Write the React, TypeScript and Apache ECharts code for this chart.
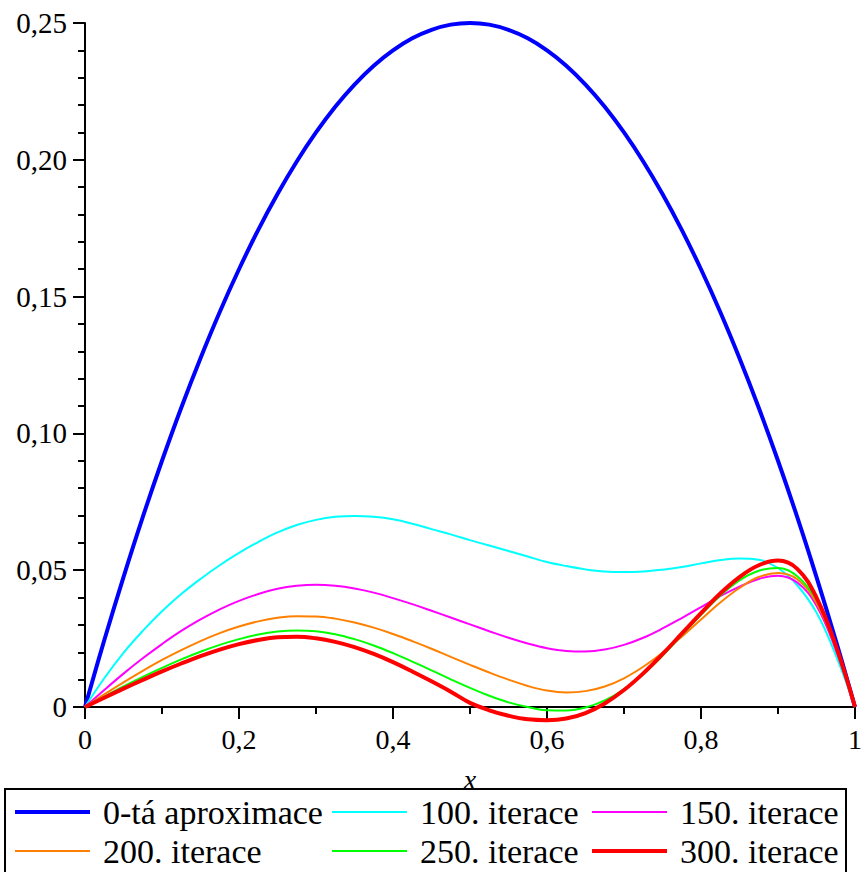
import React, { useEffect, useRef } from 'react';
import * as echarts from 'echarts';

const xs = [
  0, 0.025, 0.05, 0.075, 0.1, 0.125, 0.15, 0.175, 0.2, 0.225, 0.25, 0.275, 0.3, 0.325, 0.35, 0.375, 0.4, 0.425, 0.45, 0.475,
  0.5, 0.525, 0.55, 0.575, 0.6, 0.625, 0.65, 0.675, 0.7, 0.725, 0.75, 0.775, 0.8, 0.825, 0.85, 0.875, 0.9, 0.925, 0.95, 0.975, 1,
];

const approx0 = [
  0, 0.0244, 0.0475, 0.0694, 0.09, 0.1094, 0.1275, 0.1444, 0.16, 0.1744, 0.1875, 0.1994, 0.21, 0.2194, 0.2275, 0.2344, 0.24, 0.2444, 0.2475, 0.2494,
  0.25, 0.2494, 0.2475, 0.2444, 0.24, 0.2344, 0.2275, 0.2194, 0.21, 0.1994, 0.1875, 0.1744, 0.16, 0.1444, 0.1275, 0.1094, 0.09, 0.0694, 0.0475, 0.0244, 0,
];
const iter100 = [
  0, 0.0105, 0.0198, 0.0278, 0.035, 0.0413, 0.0468, 0.0518, 0.0563, 0.0603, 0.0638, 0.0665, 0.0684, 0.0695, 0.0698, 0.0695, 0.0686, 0.067, 0.065, 0.0631,
  0.061, 0.059, 0.057, 0.055, 0.053, 0.0515, 0.0503, 0.0495, 0.0493, 0.0495, 0.0502, 0.0512, 0.0525, 0.0537, 0.0543, 0.0538, 0.0508, 0.0445, 0.0345, 0.019, 0,
];
const iter150 = [
  0, 0.0062, 0.0122, 0.0178, 0.023, 0.0278, 0.032, 0.0357, 0.0388, 0.0413, 0.0432, 0.0443, 0.0447, 0.0443, 0.0433, 0.0418, 0.0398, 0.0376, 0.0352, 0.0327,
  0.0302, 0.0277, 0.0253, 0.0232, 0.0215, 0.0205, 0.0203, 0.021, 0.0227, 0.0253, 0.0287, 0.0325, 0.0365, 0.0405, 0.044, 0.0468, 0.048, 0.0455, 0.037, 0.021, 0,
];
const iter200 = [
  0, 0.0046, 0.009, 0.0132, 0.0172, 0.0208, 0.0241, 0.027, 0.0294, 0.0313, 0.0326, 0.0332, 0.0331, 0.0323, 0.0309, 0.029, 0.0267, 0.0241, 0.0213, 0.0183,
  0.0154, 0.0126, 0.01, 0.0077, 0.006, 0.0053, 0.0058, 0.0075, 0.0105, 0.0147, 0.0198, 0.0257, 0.032, 0.0382, 0.0435, 0.0475, 0.049, 0.0467, 0.038, 0.022, 0,
];
const iter250 = [
  0, 0.0038, 0.0075, 0.011, 0.0143, 0.0174, 0.0202, 0.0227, 0.0248, 0.0265, 0.0276, 0.028, 0.0277, 0.0266, 0.0248, 0.0225, 0.0197, 0.0166, 0.0134, 0.0101,
  0.007, 0.0041, 0.0017, 0.0, -0.0012, -0.0013, -0.0002, 0.0024, 0.0065, 0.012, 0.0187, 0.0262, 0.0337, 0.0407, 0.0463, 0.0498, 0.0508, 0.0478, 0.039, 0.0225, 0,
];
const iter300 = [
  0, 0.0034, 0.0067, 0.0099, 0.013, 0.0159, 0.0186, 0.021, 0.023, 0.0245, 0.0255, 0.0257, 0.0251, 0.0238, 0.0219, 0.0194, 0.0164, 0.013, 0.0094, 0.0056,
  0.0015, -0.0012, -0.0032, -0.0045, -0.0048, -0.0042, -0.0022, 0.0013, 0.0062, 0.0123, 0.0193, 0.0268, 0.0343, 0.0415, 0.0475, 0.0518, 0.0535, 0.0505, 0.04, 0.0225, 0,
];

const seriesNames = ['0-tá aproximace', '100. iterace', '150. iterace', '200. iterace', '250. iterace', '300. iterace'];
const seriesValues = [approx0, iter100, iter150, iter200, iter250, iter300];
const seriesColors = ['#0000ff', '#00ffff', '#ff00ff', '#ff8000', '#00ff00', '#ff0000'];
const seriesWidths = [4, 2, 2, 2, 2, 4];

const SERIF = 'Liberation Serif, Times New Roman, serif';
const THICK_ICON = 'path://M0 0H75V4H0Z';
const THIN_ICON = 'path://M0 0H75V2H0Z';

export default function App() {
  const ref = useRef<HTMLDivElement>(null);
  useEffect(() => {
    if (!ref.current) return;
    const chart = echarts.init(ref.current, null, { renderer: 'svg' });
    const series = seriesNames.map((name, i) => ({
      name,
      type: 'line',
      smooth: 0.4,
      symbol: 'none',
      clip: false,
      data: xs.map((x, j) => [x, seriesValues[i][j]]),
      lineStyle: { color: seriesColors[i], width: seriesWidths[i] },
      itemStyle: { color: seriesColors[i] },
      z: i === 0 ? 2 : 3 + i,
    }));
    const legendItem = (i: number) => ({
      name: seriesNames[i],
      icon: seriesWidths[i] > 3 ? THICK_ICON : THIN_ICON,
    });
    const legendBase = {
      orient: 'vertical',
      top: 795,
      itemWidth: 75,
      itemHeight: 14,
      itemGap: 5,
      padding: 0,
      symbolKeepAspect: true,
      textStyle: { fontFamily: SERIF, fontSize: 34, color: '#000', padding: [0, 0, 0, 8] },
    };
    chart.setOption({
      animation: false,
      backgroundColor: '#ffffff',
      textStyle: { fontFamily: SERIF },
      grid: { left: 85, right: 5, top: 23, bottom: 165 },
      xAxis: {
        type: 'value',
        min: 0,
        max: 1,
        interval: 0.2,
        name: 'x',
        nameLocation: 'middle',
        nameGap: 58,
        nameTextStyle: { fontFamily: SERIF, fontSize: 28, fontStyle: 'italic', color: '#000' },
        axisLine: { show: true, lineStyle: { color: '#000', width: 2 } },
        axisTick: { show: true, length: 12, lineStyle: { color: '#000', width: 2 } },
        minorTick: { show: true, splitNumber: 2, length: 7, lineStyle: { color: '#000', width: 2 } },
        splitLine: { show: false },
        axisLabel: {
          fontFamily: SERIF,
          fontSize: 28,
          color: '#000',
          margin: 18,
          formatter: (v: number) => (v === 0 ? '0' : v === 1 ? '1' : v.toFixed(1).replace('.', ',')),
        },
      },
      yAxis: {
        type: 'value',
        min: 0,
        max: 0.25,
        interval: 0.05,
        axisLine: { show: true, lineStyle: { color: '#000', width: 2 } },
        axisTick: { show: true, length: 12, lineStyle: { color: '#000', width: 2 } },
        minorTick: { show: true, splitNumber: 5, length: 7, lineStyle: { color: '#000', width: 2 } },
        splitLine: { show: false },
        axisLabel: {
          fontFamily: SERIF,
          fontSize: 29,
          color: '#000',
          margin: 18,
          formatter: (v: number) => (v === 0 ? '0' : v.toFixed(2).replace('.', ',')),
        },
      },
      legend: [
        { ...legendBase, left: 15, data: [legendItem(0), legendItem(3)] },
        { ...legendBase, left: 332, data: [legendItem(1), legendItem(4)] },
        { ...legendBase, left: 592, data: [legendItem(2), legendItem(5)] },
      ],
      graphic: [
        {
          type: 'rect',
          shape: { x: 5, y: 789, width: 841, height: 120 },
          style: { fill: 'none', stroke: '#000', lineWidth: 2 },
          silent: true,
        },
      ],
      series,
    });
    return () => chart.dispose();
  }, []);
  return (
    <div
      ref={ref}
      style={{ position: 'fixed', left: 0, top: 0, width: 865, height: 872, background: '#fff' }}
    />
  );
}
